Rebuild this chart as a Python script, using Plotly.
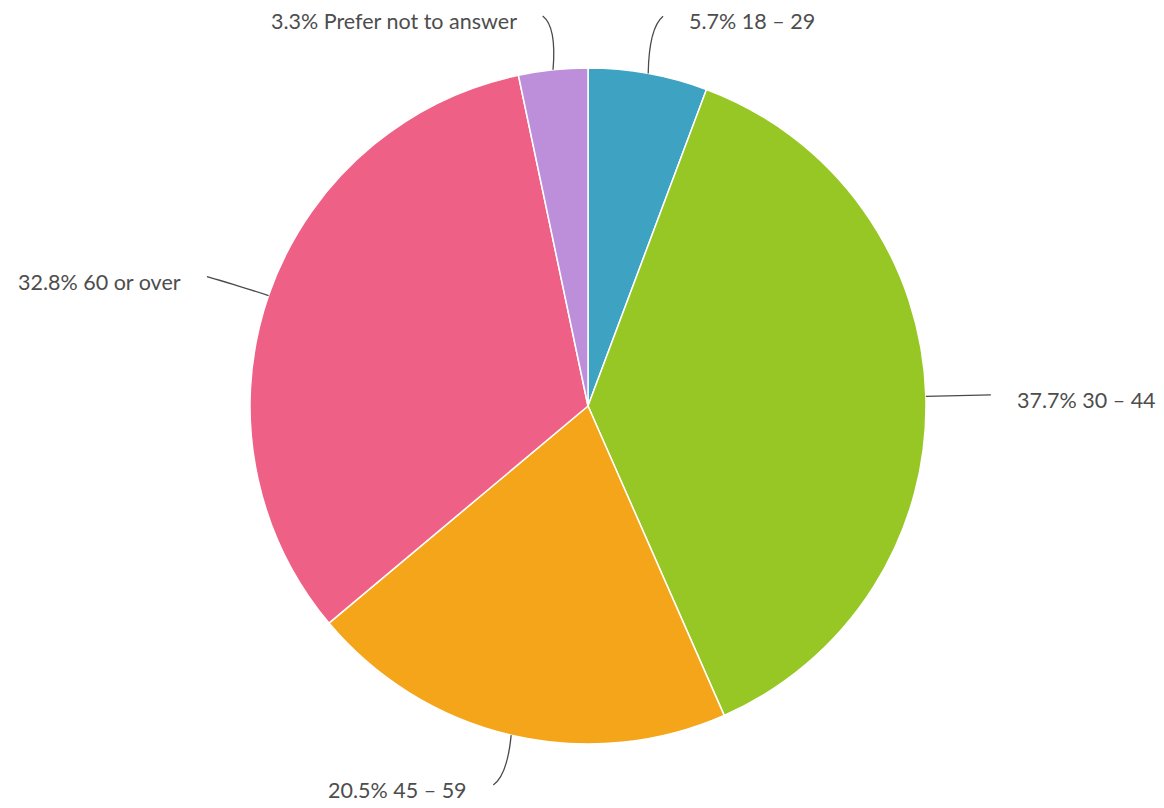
import math
import plotly.graph_objects as go

categories = ["18 – 29", "30 – 44", "45 – 59", "60 or over", "Prefer not to answer"]
percents = [5.7, 37.7, 20.5, 32.8, 3.3]
colors = ["#3ea2c3", "#96c724", "#f5a51a", "#ef6086", "#bd8fdb"]

W, H = 1164, 808
CX, CY, R = 588, 406, 338  # pie centre / radius in pixels

def px_to_paper(x, y):
    return x / W, 1 - y / H

fig = go.Figure(go.Pie(
    labels=categories,
    values=percents,
    sort=False,
    direction="clockwise",
    rotation=0,
    marker=dict(colors=colors, line=dict(color="white", width=1.5)),
    textinfo="none",
    hoverinfo="label+percent",
    showlegend=False,
    domain=dict(x=[(CX - R) / W, (CX + R) / W], y=[1 - (CY + R) / H, 1 - (CY - R) / H]),
))

shapes = []
annotations = []
total = sum(percents)
cum = 0.0
for cat, p in zip(categories, percents):
    mid = (cum + p / 2) / total * 2 * math.pi
    cum += p
    sx, sy = math.sin(mid), -math.cos(mid)
    x0, y0 = CX + R * sx, CY + R * sy
    x2, y2 = CX + (R + 61) * sx, CY + (R + 58) * sy
    y2 = min(max(y2, 16), H - 23)
    side = 1 if sx >= 0 else -1
    x2 += side * 4
    cxp = x2 - side * 14
    cyp = y2 + (y0 - y2) * 0.2
    pts = [px_to_paper(x0, y0), px_to_paper(cxp, cyp), px_to_paper(x2, y2)]
    path = "M {:.5f} {:.5f} Q {:.5f} {:.5f} {:.5f} {:.5f}".format(
        pts[0][0], pts[0][1], pts[1][0], pts[1][1], pts[2][0], pts[2][1])
    shapes.append(dict(type="path", path=path, xref="paper", yref="paper",
                       line=dict(color="#4a4a4a", width=1.3)))
    tx, ty = px_to_paper(x2 + side * 24, y2 + 5)
    annotations.append(dict(
        x=tx, y=ty, xref="paper", yref="paper",
        text=f"{p:.1f}% {cat}", showarrow=False,
        xanchor="left" if side > 0 else "right", yanchor="middle",
        font=dict(family="Lato, sans-serif", size=21.5, color="#4d4d4d"),
    ))

fig.update_layout(
    width=W, height=H,
    margin=dict(l=0, r=0, t=0, b=0),
    paper_bgcolor="white", plot_bgcolor="white",
    shapes=shapes, annotations=annotations,
)

fig.write_html(
    "out.html",
    config={"displayModeBar": False},
    post_script="document.body.style.margin='0';document.body.style.overflow='hidden';",
)
